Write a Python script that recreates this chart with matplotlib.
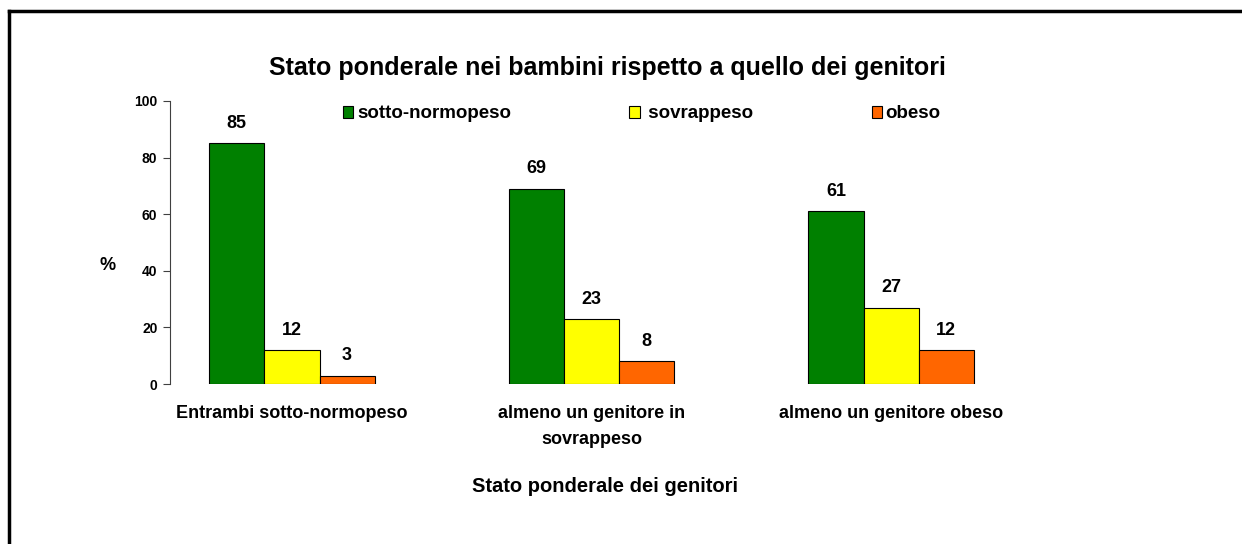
import matplotlib
matplotlib.use('Agg')
from matplotlib import pyplot as plt
from matplotlib.lines import Line2D
import numpy as np

plt.rcParams['font.family'] = ['Liberation Sans', 'DejaVu Sans']

categorie = ['Entrambi sotto-normopeso', 'almeno un genitore in\nsovrappeso', 'almeno un genitore obeso']
serie = ['sotto-normopeso', ' sovrappeso', 'obeso']
valori = {
    'sotto-normopeso': [85, 69, 61],
    ' sovrappeso': [12, 23, 27],
    'obeso': [3, 8, 12],
}
colori = ['#008000', '#FFFF00', '#FF6600']

fig = plt.figure(figsize=(12.42, 5.44), dpi=100)
ax = fig.add_axes([170 / 1242, 1 - 384 / 544, 871 / 1242, 283 / 544])

x = np.arange(len(categorie))
w = 0.184
for i, s in enumerate(serie):
    pos = x + (i - 1) * w
    bars = ax.bar(pos, valori[s], w, color=colori[i], edgecolor='black', linewidth=0.8, label=s)
    for b, v in zip(bars, valori[s]):
        ax.text(b.get_x() + w / 2, v + 4, str(v), ha='center', va='bottom',
                fontsize=13, fontweight='bold')

ax.set_xlim(-0.407, 2.5)
ax.set_ylim(0, 100)
ax.set_yticks(np.arange(0, 101, 20))
ax.tick_params(axis='y', labelsize=10, length=5, width=0.8, color='#404040', pad=4)
for lab in ax.get_yticklabels():
    lab.set_fontweight('bold')
ax.set_xticks(x)
ax.set_xticklabels(categorie, fontsize=13, fontweight='bold', linespacing=1.7, va='top')
ax.tick_params(axis='x', length=0, pad=15)
for sp in ['top', 'right', 'bottom']:
    ax.spines[sp].set_visible(False)
ax.spines['left'].set_color('#404040')

ax.text((108 - 170) / 871, 42, '%', transform=ax.get_yaxis_transform(),
        ha='center', va='center', fontsize=13, fontweight='bold')
ax.set_xlabel('Stato ponderale dei genitori', fontsize=14.5, fontweight='bold', labelpad=20)
ax.xaxis.set_label_coords(0.5, (384 - 487) / 283, transform=ax.transAxes)
ax.xaxis.label.set_va('center')

fig.suptitle('Stato ponderale nei bambini rispetto a quello dei genitori',
             x=607 / 1242, y=1 - 68 / 544, va='center', fontsize=18, fontweight='bold')

leg = ax.legend(ncol=3, loc='center left', bbox_to_anchor=((343 - 170) / 871, 1 - 13 / 283),
                frameon=False, fontsize=13.5, handlelength=0.55, handleheight=0.55,
                handletextpad=0.2, columnspacing=6.3, borderaxespad=0, borderpad=0)
for t in leg.get_texts():
    t.set_fontweight('bold')

# cornice
fig.add_artist(Line2D([8.5 / 1242, 8.5 / 1242], [0, 1 - 10.5 / 544], color='black', lw=2.5))
fig.add_artist(Line2D([8.5 / 1242, 1], [1 - 10.5 / 544, 1 - 10.5 / 544], color='black', lw=2.5))

fig.savefig('out.png', dpi=100)
